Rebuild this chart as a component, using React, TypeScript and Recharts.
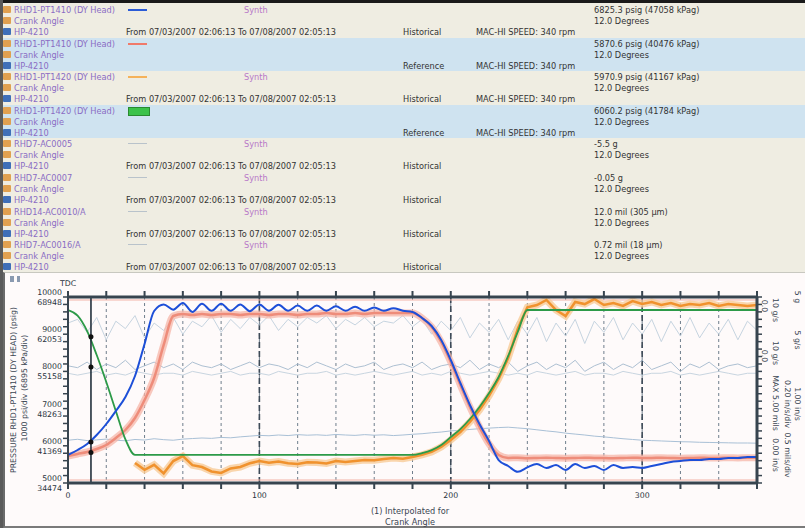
import React from "react";
import {
  LineChart,
  Line,
  XAxis,
  YAxis,
  CartesianGrid,
  ReferenceLine,
  ReferenceDot,
} from "recharts";

const FONT = '"DejaVu Sans", Verdana, sans-serif';

// ---- table (plot legend) ----
const tagNames = [
  "RHD1-PT1410 (DY Head)",
  "RHD1-PT1410 (DY Head)",
  "RHD1-PT1420 (DY Head)",
  "RHD1-PT1420 (DY Head)",
  "RHD7-AC0005",
  "RHD7-AC0007",
  "RHD14-AC0010/A",
  "RHD7-AC0016/A",
];
const sourceTypes = [
  "Historical",
  "Reference",
  "Historical",
  "Reference",
  "Historical",
  "Historical",
  "Historical",
  "Historical",
];
const swatchColors = ["#2a5bd7", "#f07a6a", "#f5b25a", "#3cc24a", "#b9c3cb", "#b9c3cb", "#b9c3cb", "#b9c3cb"];
const speedTexts = [
  "MAC-HI SPEED: 340 rpm",
  "MAC-HI SPEED: 340 rpm",
  "MAC-HI SPEED: 340 rpm",
  "MAC-HI SPEED: 340 rpm",
  "",
  "",
  "",
  "",
];
const cursorValues = [
  "6825.3 psig (47058 kPag)",
  "5870.6 psig (40476 kPag)",
  "5970.9 psig (41167 kPag)",
  "6060.2 psig (41784 kPag)",
  "-5.5 g",
  "-0.05 g",
  "12.0 mil (305 µm)",
  "0.72 mil (18 µm)",
];
const cursorAngle = "12.0 Degrees";
const rangeText = "From 07/03/2007 02:06:13 To 07/08/2007 02:05:13";

// ---- chart data ----
const crankAngle = [
  0, 5, 10, 15, 20, 25, 30, 35, 40, 45, 50, 55, 60, 65, 70, 75, 80, 85, 90, 95,
  100, 105, 110, 115, 120, 125, 130, 135, 140, 145, 150, 155, 160, 165, 170, 175,
  180, 185, 190, 195, 200, 205, 210, 215, 220, 225, 230, 235, 240, 245, 250, 255,
  260, 265, 270, 275, 280, 285, 290, 295, 300, 305, 310, 315, 320, 325, 330, 335,
  340, 345, 350, 355, 360,
];
// psig, blue
const headPressure = [
  5753, 5887, 6049, 6290, 6586, 6936, 7312, 7876, 8737, 9624,
  9800, 9660, 9840, 9600, 9820, 9630, 9820, 9630, 9800, 9620,
  9800, 9630, 9790, 9630, 9770, 9630, 9770, 9630, 9750, 9630,
  9740, 9630, 9720, 9630, 9700, 9630, 9597, 9436, 9220, 8844,
  8306, 7688, 7097, 6586, 6129, 5618, 5457, 5300, 5420, 5511,
  5404, 5484, 5350, 5511, 5404, 5457, 5350, 5484, 5404, 5430,
  5404, 5457, 5511, 5565, 5592, 5618, 5618, 5645, 5645, 5672,
  5672, 5699, 5699,
];
// psig, salmon reference
const refPressure = [
  5726, 5780, 5834, 5914, 6022, 6210, 6425, 6747, 7231, 7823,
  8710, 9489, 9543, 9516, 9543, 9516, 9543, 9543, 9516, 9543,
  9543, 9516, 9543, 9543, 9516, 9543, 9543, 9570, 9543, 9543,
  9570, 9543, 9570, 9570, 9570, 9570, 9570, 9436, 9194, 8790,
  8253, 7634, 7043, 6506, 6049, 5753, 5672, 5680, 5665, 5672,
  5680, 5672, 5665, 5672, 5680, 5672, 5672, 5665, 5672, 5680,
  5672, 5672, 5680, 5672, 5665, 5672, 5680, 5672, 5672, 5680,
  5672, 5680, 5680,
];
// % of span, green synthetic
const syntheticCurve = [
  93.0, 90.0, 81.7, 68.8, 54.3, 38.7, 23.4, 15.1, 15.1, 15.1,
  15.1, 15.1, 15.1, 15.1, 15.1, 15.1, 15.1, 15.1, 15.1, 15.1,
  15.1, 15.1, 15.1, 15.1, 15.1, 15.1, 15.1, 15.1, 15.1, 15.1,
  15.1, 15.1, 15.1, 15.1, 15.1, 15.1, 15.1, 16.1, 17.7, 20.4,
  24.7, 29.0, 34.4, 40.9, 48.4, 57.0, 68.3, 81.2, 93.0, 93.0,
  93.0, 93.0, 93.0, 93.0, 93.0, 93.0, 93.0, 93.0, 93.0, 93.0,
  93.0, 93.0, 93.0, 93.0, 93.0, 93.0, 93.0, 93.0, 93.0, 93.0,
  93.0, 93.0, 93.0,
];
// % of span, orange measured
const measuredCurve = [
  null, null, null, null, null, null, null, 10.8, 7.1, 9.8,
  5.2, 11.8, 14.5, 9.6, 8.6, 6.2, 5.4, 7.8, 8.6, 10.6,
  11.8, 10.9, 11.5, 10.6, 10.2, 11.2, 11.0, 10.5, 11.8, 11.3,
  11.8, 12.4, 12.2, 12.9, 13.4, 13.1, 14.0, 15.1, 16.7, 19.4,
  23.1, 27.4, 32.8, 39.2, 46.8, 55.9, 67.2, 83.0, 94.5, 95.7,
  98.4, 93.0, 89.8, 97.3, 96.2, 98.9, 95.7, 96.8, 95.2, 97.8,
  96.2, 97.3, 95.7, 96.8, 95.2, 96.2, 95.7, 96.8, 95.2, 96.2,
  95.7, 95.2, 95.7,
];
// % of span, light traces
const accelTop = [
  86, 88, 81, 89, 77, 87, 83, 90, 78, 86,
  82, 89, 80, 87, 84, 90, 81, 88, 83, 89,
  85, 90, 82, 88, 84, 89, 86, 90, 83, 88,
  85, 89, 84, 87, 86, 90, 84, 88, 80, 87,
  82, 89, 78, 86, 81, 88, 77, 87, 80, 89,
  76, 86, 79, 88, 75, 87, 81, 89, 77, 86,
  80, 88, 76, 87, 79, 89, 78, 86, 80, 88,
  77, 87, 82,
];
const accelMid = [
  63, 62, 65, 61, 64, 62, 66, 61, 63, 65,
  62, 64, 61, 65, 63, 62, 64, 61, 63, 65,
  62, 64, 63, 61, 64, 62, 65, 63, 61, 64,
  62, 63, 65, 61, 63, 64, 62, 65, 61, 63,
  64, 62, 66, 61, 64, 62, 65, 60, 63, 65,
  61, 64, 62, 66, 60, 63, 65, 61, 64, 62,
  66, 61, 63, 65, 60, 64, 62, 65, 61, 63,
  64, 62, 63,
];
const accelMid2 = [
  59, 58, 59, 60, 58, 59, 58, 60, 59, 58,
  59, 59, 58, 60, 59, 58, 59, 60, 58, 59,
  59, 58, 60, 59, 58, 59, 59, 60, 58, 59,
  58, 59, 60, 59, 58, 59, 60, 58, 59, 58,
  60, 59, 58, 59, 60, 59, 58, 59, 58, 60,
  59, 58, 59, 60, 58, 59, 59, 58, 60, 59,
  58, 59, 59, 60, 58, 59, 58, 59, 60, 59,
  58, 59, 59,
];
const rodDrop = [
  23, 23.5, 22.8, 23.2, 23.6, 23, 22.7, 23.4, 23.1, 23.8,
  23.3, 23, 23.6, 23.9, 24.2, 24, 24.5, 24.3, 24.8, 25.2,
  25.6, 25.4, 25.8, 25.5, 26, 25.7, 25.9, 25.6, 26.1, 25.8,
  25.6, 26, 25.7, 25.9, 25.5, 25.8, 26.2, 26.5, 27, 27.4,
  28, 28.3, 28.8, 29.2, 29.5, 29.8, 30, 29.6, 29.2, 28.6,
  28, 27.5, 26.8, 26.3, 25.8, 25.2, 24.8, 24.3, 23.8, 23.4,
  23, 22.8, 22.6, 22.4, 22.2, 22.1, 21.9, 21.8, 21.7, 21.6,
  21.5, 21.5, 21.4,
];

const angleTicks = [0, 20, 40, 60, 80, 100, 120, 140, 160, 180, 200, 220, 240, 260, 280, 300, 320, 340, 360];
const majorAngles = [100, 200, 300];
const cursorDeg = 12;
const psiTicks = [
  5000, 5200, 5400, 5600, 5800, 6000, 6200, 6400, 6600, 6800, 7000, 7200, 7400,
  7600, 7800, 8000, 8200, 8400, 8600, 8800, 9000, 9200, 9400, 9600, 9800, 10000,
];
const kpaLabels: Record<number, string> = {
  5000: "34474",
  6000: "41369",
  7000: "48263",
  8000: "55158",
  9000: "62053",
  10000: "68948",
};
const spanTicks = [0, 4, 8, 12, 16, 20, 24, 28, 32, 36, 40, 44, 48, 52, 56, 60, 64, 68, 72, 76, 80, 84, 88, 92, 96, 100];

const rows = crankAngle.map((deg, i) => ({
  deg,
  head: headPressure[i],
  ref: refPressure[i],
  synth: syntheticCurve[i],
  meas: measuredCurve[i],
  accTop: accelTop[i],
  accMid: accelMid[i],
  accMid2: accelMid2[i],
  rod: rodDrop[i],
}));

const AXIS = "#37444f";
const txt: React.CSSProperties = { position: "absolute", fontFamily: FONT, fontSize: 8.2, lineHeight: "10px", whiteSpace: "nowrap" };

function BottomTick(p: any) {
  const v = p.payload.value;
  if (v % 100 !== 0 || v === 360) return <g />;
  return (
    <text x={p.x} y={p.y + 7} textAnchor="middle" fontSize={7.8} fontFamily={FONT} fill="#2a3440">
      {v}
    </text>
  );
}

function TopTick(p: any) {
  if (p.payload.value !== 0) return <g />;
  return (
    <text x={p.x} y={p.y - 3} textAnchor="middle" fontSize={7.8} fontFamily={FONT} fill="#2a3440">
      TDC
    </text>
  );
}

function LeftTick(p: any) {
  const v = p.payload.value;
  if (v % 1000 !== 0) return <g />;
  return (
    <g fontSize={7.8} fontFamily={FONT} fill="#2a3440">
      <text x={p.x + 1} y={p.y - 2} textAnchor="end">{v}</text>
      <text x={p.x + 1} y={p.y + 8} textAnchor="end">{kpaLabels[v]}</text>
    </g>
  );
}

function Rot({ x, y, text, dir = 90, color = "#3a4552" }: any) {
  return (
    <div
      style={{
        ...txt,
        fontSize: 7.8,
        left: x,
        top: y,
        color,
        transform: `translate(-50%, -50%) rotate(${dir}deg)`,
      }}
    >
      {text}
    </div>
  );
}

function Table() {
  return (
    <>
      {tagNames.map((name, i) => {
        const top = 4 + i * 33.6;
        const isRef = sourceTypes[i] === "Reference";
        const line = (k: number) => top + 1 + k * 11;
        return (
          <div key={name + i}>
            <div
              style={{
                position: "absolute",
                left: 0,
                top,
                width: 805,
                height: 34,
                background: isRef ? "#cfe3f0" : "#efede2",
              }}
            />
            {[0, 1, 2].map((k) => (
              <div
                key={k}
                style={{
                  position: "absolute",
                  left: 3,
                  top: line(k) + 1,
                  width: 8,
                  height: 7,
                  background: k === 2 ? "#3f6fb8" : "#e0a050",
                  borderRadius: 1,
                }}
              />
            ))}
            <div style={{ ...txt, left: 14, top: line(0), color: "#8a6cc4" }}>{name}</div>
            <div style={{ ...txt, left: 14, top: line(1), color: "#8a6cc4" }}>Crank Angle</div>
            <div style={{ ...txt, left: 14, top: line(2), color: "#8a6cc4" }}>HP-4210</div>
            {i === 3 ? (
              <div
                style={{
                  position: "absolute",
                  left: 128,
                  top: line(0) + 1,
                  width: 20,
                  height: 7,
                  background: swatchColors[i],
                  border: "1px solid #2a8a30",
                }}
              />
            ) : (
              <div
                style={{
                  position: "absolute",
                  left: 128,
                  top: line(0) + 4,
                  width: 19,
                  height: i < 4 ? 2 : 1,
                  background: swatchColors[i],
                }}
              />
            )}
            {!isRef && <div style={{ ...txt, left: 244, top: line(0), color: "#b878c8" }}>Synth</div>}
            {!isRef && <div style={{ ...txt, left: 126, top: line(2), color: "#333" }}>{rangeText}</div>}
            <div style={{ ...txt, left: 403, top: line(2), color: "#333" }}>{sourceTypes[i]}</div>
            <div style={{ ...txt, left: 476, top: line(2), color: "#333" }}>{speedTexts[i]}</div>
            <div style={{ ...txt, left: 594, top: line(0), color: "#333" }}>{cursorValues[i]}</div>
            <div style={{ ...txt, left: 594, top: line(1), color: "#333" }}>{cursorAngle}</div>
          </div>
        );
      })}
    </>
  );
}

export default function App() {
  return (
    <div
      style={{
        position: "absolute",
        left: 0,
        top: 0,
        width: 805,
        height: 528,
        overflow: "hidden",
        background: "#efede2",
        fontFamily: FONT,
      }}
    >
      <Table />
      <div style={{ position: "absolute", left: 0, top: 0, width: 805, height: 3, background: "#1a1a1a" }} />
      <div style={{ position: "absolute", left: 0, top: 0, width: 3, height: 528, background: "#5a5a5a" }} />

      <div
        style={{
          position: "absolute",
          left: 3,
          top: 272,
          width: 802,
          height: 256,
          background: "#fefafa",
          borderTop: "1px solid #c8c8c0",
          borderLeft: "2px solid #6a6a6a",
          borderBottom: "2px solid #7a7a7a",
          boxSizing: "border-box",
        }}
      />
      <div style={{ position: "absolute", left: 10, top: 276, width: 4, height: 6, background: "#8a9ab0" }} />
      <div style={{ position: "absolute", left: 17, top: 276, width: 3, height: 6, background: "#8a9ab0" }} />

      <div style={{ position: "absolute", left: 0, top: 272 }}>
        <LineChart width={805} height={256} data={rows} margin={{ top: 0, right: 0, bottom: 0, left: 0 }}>
          <CartesianGrid horizontal={false} stroke="#6f7e8c" strokeDasharray="3 3" strokeWidth={1} />
          <XAxis
            dataKey="deg"
            type="number"
            domain={[0, 360]}
            ticks={angleTicks}
            interval={0}
            height={45}
            allowDataOverflow
            axisLine={{ stroke: AXIS, strokeWidth: 3 }}
            tickLine={{ stroke: AXIS, strokeWidth: 2 }}
            tickSize={6}
            tick={(p: any) => <BottomTick {...p} />}
          />
          <XAxis
            xAxisId="top"
            orientation="top"
            dataKey="deg"
            type="number"
            domain={[0, 360]}
            ticks={angleTicks}
            interval={0}
            height={25}
            allowDataOverflow
            axisLine={{ stroke: AXIS, strokeWidth: 3 }}
            tickLine={{ stroke: AXIS, strokeWidth: 2 }}
            tickSize={6}
            tick={(p: any) => <TopTick {...p} />}
          />
          <YAxis
            type="number"
            domain={[5000, 10000]}
            ticks={psiTicks}
            interval={0}
            width={68}
            allowDataOverflow
            axisLine={{ stroke: AXIS, strokeWidth: 2 }}
            tickLine={{ stroke: AXIS, strokeWidth: 1.5 }}
            tickSize={5}
            tick={(p: any) => <LeftTick {...p} />}
          />
          <YAxis
            yAxisId="r"
            orientation="right"
            type="number"
            domain={[0, 100]}
            ticks={spanTicks}
            interval={0}
            width={48}
            allowDataOverflow
            axisLine={{ stroke: AXIS, strokeWidth: 3 }}
            tickLine={{ stroke: AXIS, strokeWidth: 1.5 }}
            tickSize={5}
            tick={() => <g />}
          />
          {majorAngles.map((a) => (
            <ReferenceLine key={a} x={a} stroke="#3d4a57" strokeWidth={1.6} strokeDasharray="6 3" />
          ))}
          <ReferenceLine yAxisId="r" y={98.4} stroke="#f2b0a4" strokeWidth={1} />
          <ReferenceLine yAxisId="r" y={1.6} stroke="#f2b0a4" strokeWidth={1} />

          <Line dataKey="rod" yAxisId="r" type="linear" stroke="#a9c0d6" strokeWidth={1} dot={false} isAnimationActive={false} />
          <Line dataKey="accMid2" yAxisId="r" type="linear" stroke="#c8d5e0" strokeWidth={1} dot={false} isAnimationActive={false} />
          <Line dataKey="accMid" yAxisId="r" type="linear" stroke="#adc0d2" strokeWidth={1} dot={false} isAnimationActive={false} />
          <Line dataKey="accTop" yAxisId="r" type="linear" stroke="#c6d4e0" strokeWidth={1} dot={false} isAnimationActive={false} />

          <Line dataKey="ref" type="monotone" stroke="#f6b6a8" strokeWidth={7} strokeOpacity={0.75} dot={false} isAnimationActive={false} />
          <Line dataKey="meas" yAxisId="r" type="linear" stroke="#f8cc98" strokeWidth={7} strokeOpacity={0.8} dot={false} isAnimationActive={false} />
          <Line dataKey="ref" type="monotone" stroke="#ee8c7a" strokeWidth={2.5} dot={false} isAnimationActive={false} />
          <Line dataKey="meas" yAxisId="r" type="linear" stroke="#f0922e" strokeWidth={2.5} dot={false} isAnimationActive={false} />
          <Line dataKey="synth" yAxisId="r" type="monotone" stroke="#2c9a48" strokeWidth={1.8} dot={false} isAnimationActive={false} />
          <Line dataKey="head" type="monotone" stroke="#1d4fd8" strokeWidth={2} dot={false} isAnimationActive={false} />

          <ReferenceLine x={cursorDeg} stroke="#22303c" strokeWidth={1.6} />
          <ReferenceDot x={cursorDeg} yAxisId="r" y={78.6} r={2.5} fill="#111" stroke="none" />
          <ReferenceDot x={cursorDeg} yAxisId="r" y={62.4} r={2.5} fill="#111" stroke="none" />
          <ReferenceDot x={cursorDeg} y={6100} r={2.5} fill="#111" stroke="none" />
          <ReferenceDot x={cursorDeg} y={5820} r={2.5} fill="#111" stroke="none" />
        </LineChart>
      </div>

      <Rot x={14} y={390} dir={-90} text="PRESSURE RHD1-PT1410 (DY HEAD) (psig)" />
      <Rot x={25} y={388} dir={-90} text="1000 psi/div (6895 kPa/div)" />

      <Rot x={764} y={306} text="0.0" />
      <Rot x={764} y={356} text="0.0" />
      <Rot x={775} y={310} text="10 g/s" />
      <Rot x={775} y={353} text="10 g/s" />
      <Rot x={775} y={403} text="MAX 5.00 mils" />
      <Rot x={775} y={455} text="0.00 in/s" />
      <Rot x={787} y={404} text="0.20 in/s/div" />
      <Rot x={787} y={455} text="0.5 mils/div" />
      <Rot x={797} y={297} text="5 g" />
      <Rot x={797} y={340} text="5 g/s" />
      <Rot x={797} y={404} text="1.00 in/s" />

      <div style={{ ...txt, left: 410, top: 506, color: "#3a4552", transform: "translateX(-50%)" }}>
        (1) Interpolated for
      </div>
      <div style={{ ...txt, left: 410, top: 517, color: "#3a4552", transform: "translateX(-50%)" }}>
        Crank Angle
      </div>
    </div>
  );
}
